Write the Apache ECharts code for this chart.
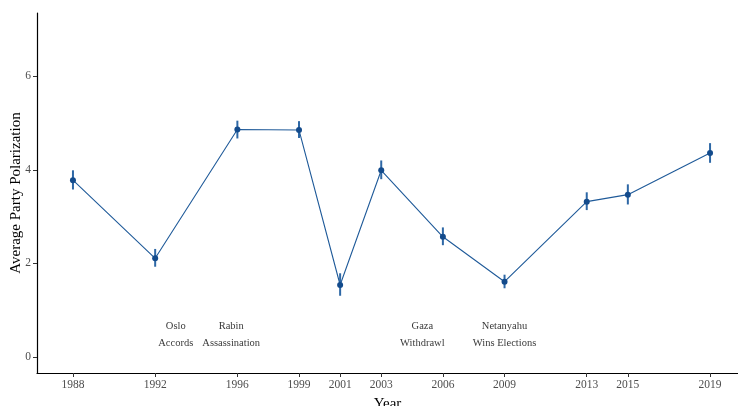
<!DOCTYPE html>
<html>
<head>
<meta charset="utf-8">
<script src="https://cdn.jsdelivr.net/npm/echarts@6/dist/echarts.min.js"></script>
<style>
  html, body { margin: 0; padding: 0; background: #fff; }
  #chart { width: 738px; height: 406px; }
</style>
</head>
<body>
<div id="chart"></div>
<script>
// Election years and mean party polarization with confidence bounds
const years = [1988, 1992, 1996, 1999, 2001, 2003, 2006, 2009, 2013, 2015, 2019];
const polarization = [3.78, 2.11, 4.86, 4.85, 1.54, 3.99, 2.57, 1.61, 3.32, 3.47, 4.36];
const lower = [3.58, 1.93, 4.67, 4.68, 1.31, 3.80, 2.39, 1.47, 3.14, 3.26, 4.15];
const upper = [3.99, 2.31, 5.05, 5.04, 1.79, 4.20, 2.77, 1.76, 3.52, 3.69, 4.57];

// Historical events marked under the line
const eventYears = [1993, 1995.7, 2005, 2009];
const eventLabels = ['Oslo\nAccords', 'Rabin\nAssassination', 'Gaza\nWithdrawl', 'Netanyahu\nWins Elections'];
const eventLevel = 0.48;

// Axis ticks
const xTicks = years;
const yTicks = [0, 2, 4, 6];

const lineColor = '#1f5a99';
const pointColor = '#134b8c';
const barColor = '#2e68a6';
const serif = '"Liberation Serif", "DejaVu Serif", serif';

const chart = echarts.init(document.getElementById('chart'));

chart.setOption({
  animation: false,
  backgroundColor: '#ffffff',
  grid: { left: 37, right: 0, top: 13, bottom: 33, containLabel: false, outerBoundsMode: 'none' },
  xAxis: {
    type: 'value',
    min: 1986.25,
    max: 2020.36,
    name: 'Year',
    nameLocation: 'middle',
    nameGap: 24,
    nameMoveOverlap: false,
    nameTextStyle: { fontFamily: serif, fontSize: 15, color: '#000' },
    splitLine: { show: false },
    axisLine: { show: true, onZero: false, lineStyle: { color: '#000', width: 1.2 } },
    axisTick: { show: true, length: 4, lineStyle: { color: '#333' }, customValues: xTicks },
    axisLabel: {
      fontFamily: serif, fontSize: 11.5, color: '#4d4d4d', margin: 6,
      customValues: xTicks,
      formatter: v => String(v)
    }
  },
  yAxis: {
    type: 'value',
    min: -0.34,
    max: 7.35,
    name: 'Average Party Polarization',
    nameLocation: 'middle',
    nameGap: 13,
    nameMoveOverlap: false,
    nameTextStyle: { fontFamily: serif, fontSize: 15, color: '#000' },
    splitLine: { show: false },
    axisLine: { show: true, onZero: false, lineStyle: { color: '#000', width: 1.2 } },
    axisTick: { show: true, length: 4, lineStyle: { color: '#333' }, customValues: yTicks },
    axisLabel: {
      fontFamily: serif, fontSize: 11.5, color: '#4d4d4d', margin: 6,
      customValues: yTicks,
      formatter: v => String(v)
    }
  },
  series: [
    {
      // vertical interval bars
      type: 'custom',
      z: 2,
      renderItem: function (params, api) {
        const x = api.value(0);
        const lo = api.coord([x, api.value(1)]);
        const hi = api.coord([x, api.value(2)]);
        return {
          type: 'line',
          shape: { x1: lo[0], y1: lo[1], x2: hi[0], y2: hi[1] },
          style: { stroke: barColor, lineWidth: 2 }
        };
      },
      data: years.map((y, i) => [y, lower[i], upper[i]])
    },
    {
      type: 'line',
      z: 3,
      data: years.map((y, i) => [y, polarization[i]]),
      lineStyle: { color: lineColor, width: 1.1 },
      symbol: 'circle',
      symbolSize: 6,
      itemStyle: { color: pointColor },
      emphasis: { disabled: true }
    },
    {
      type: 'scatter',
      z: 4,
      symbolSize: 0,
      data: eventYears.map((y, i) => ({ value: [y, eventLevel], name: eventLabels[i] })),
      label: {
        show: true,
        position: 'inside',
        formatter: p => p.name,
        fontFamily: serif,
        fontSize: 10.5,
        lineHeight: 17,
        color: '#000',
        align: 'center',
        verticalAlign: 'middle'
      },
      emphasis: { disabled: true }
    }
  ]
});
</script>
</body>
</html>
